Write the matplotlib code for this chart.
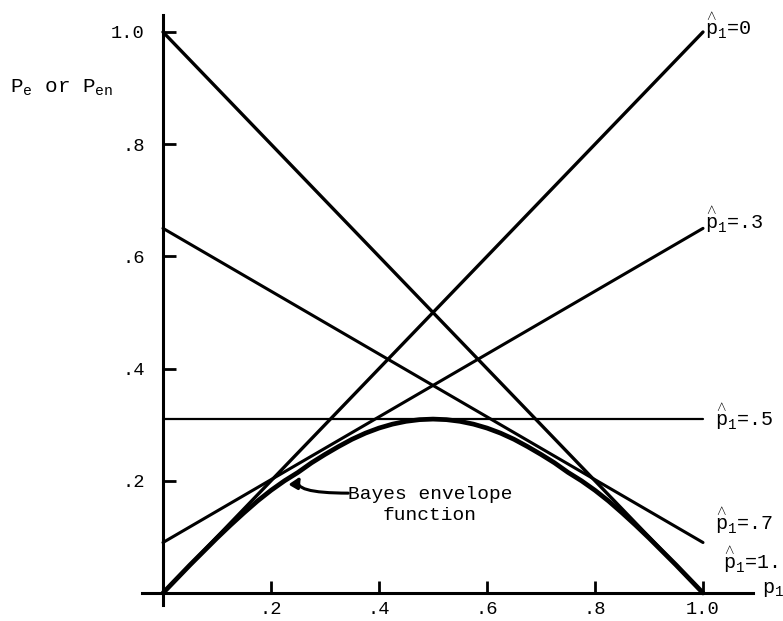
import matplotlib
matplotlib.use("Agg")
import matplotlib.pyplot as plt
import numpy as np

plt.rcParams['font.family'] = ['Liberation Mono', 'DejaVu Sans Mono']
plt.rcParams['mathtext.fontset'] = 'custom'
plt.rcParams['mathtext.rm'] = 'Liberation Mono'
plt.rcParams['mathtext.it'] = 'Liberation Mono'
plt.rcParams['mathtext.bf'] = 'Liberation Mono:bold'

# ---- data ----
line_x = [0.0, 1.0]
line_labels = ["0", ".3", ".5", ".7", "1."]
line_start = [0.0, 0.09, 0.31, 0.65, 1.0]
line_end = [1.0, 0.65, 0.31, 0.09, 0.0]
line_widths = [2.4, 2.2, 1.6, 2.2, 2.4]

env_p = [0.0, 0.025, 0.05, 0.075, 0.10, 0.125, 0.15, 0.175, 0.20, 0.225, 0.25,
         0.275, 0.30, 0.325, 0.35, 0.375, 0.40, 0.425, 0.45, 0.475, 0.50,
         0.525, 0.55, 0.575, 0.60, 0.625, 0.65, 0.675, 0.70, 0.725, 0.75,
         0.775, 0.80, 0.825, 0.85, 0.875, 0.90, 0.925, 0.95, 0.975, 1.0]
env_v = [0.0, 0.025, 0.05, 0.074, 0.098, 0.121, 0.143, 0.164, 0.183, 0.20, 0.215,
         0.232, 0.247, 0.261, 0.274, 0.285, 0.294, 0.301, 0.306, 0.309, 0.31,
         0.309, 0.306, 0.301, 0.294, 0.285, 0.274, 0.261, 0.247, 0.232, 0.215,
         0.20, 0.183, 0.164, 0.143, 0.121, 0.098, 0.074, 0.05, 0.025, 0.0]

xticks = [0.2, 0.4, 0.6, 0.8, 1.0]
xtick_labels = [".2", ".4", ".6", ".8", "1.0"]
yticks = [0.2, 0.4, 0.6, 0.8, 1.0]
ytick_labels = [".2", ".4", ".6", ".8", "1.0"]

# anchor (data coords) of the right-hand labels
label_pos = [(1.004, 1.003), (1.004, 0.656), (1.022, 0.306), (1.022, 0.12), (1.037, 0.05)]

FS = 13.5
W, H = 783, 621
fig = plt.figure(figsize=(W / 100, H / 100), dpi=100)
x0_px, x1_px = 163.0, 703.0
y0_px, y1_px = 593.0, 32.0
ax_left_px, ax_right_px = 141.7, 753.0
ax_bot_px, ax_top_px = 605.0, 15.0
ax = fig.add_axes([ax_left_px / W, (H - ax_bot_px) / H,
                   (ax_right_px - ax_left_px) / W, (ax_bot_px - ax_top_px) / H])
sx = (x1_px - x0_px)
sy = (y0_px - y1_px)
ax.set_xlim((ax_left_px - x0_px) / sx, (ax_right_px - x0_px) / sx)
ax.set_ylim((y0_px - ax_bot_px) / sy, (y0_px - ax_top_px) / sy)

for s in ['top', 'right']:
    ax.spines[s].set_visible(False)
ax.spines['left'].set_position(('data', 0))
ax.spines['bottom'].set_position(('data', 0))
ax.spines['left'].set_linewidth(2.2)
ax.spines['bottom'].set_linewidth(2.2)

ax.set_xticks(xticks)
ax.set_xticklabels(xtick_labels, fontsize=FS)
ax.set_yticks(yticks)
ax.set_yticklabels(ytick_labels, fontsize=FS)
ax.tick_params(axis='x', direction='in', length=9, width=2, pad=6)
ax.tick_params(axis='y', direction='in', length=9, width=2, pad=13)

for ys, ye, lw in zip(line_start, line_end, line_widths):
    ax.plot(line_x, [ys, ye], color='black', lw=lw, solid_capstyle='round', clip_on=False)

ax.plot(env_p, env_v, color='black', lw=3.4, solid_capstyle='round',
        solid_joinstyle='round', clip_on=False)

for lab, (lx, ly) in zip(line_labels, label_pos):
    ax.annotate(r"$\overset{\wedge}{\mathrm{p}}_{\mathrm{1}}$=" + lab, xy=(lx, ly),
                xytext=(0, 4), textcoords='offset points', fontsize=FS + 1,
                ha='left', va='center', annotation_clip=False)

ax.text(1.109, 0.006, r"$\mathrm{p}_{\mathrm{1}}$", fontsize=FS + 1, ha='left',
        va='center', clip_on=False)

ax.text(0.494, 0.157, "Bayes envelope\nfunction", fontsize=FS + 0.5, ha='center',
        va='center', multialignment='center', linespacing=1.3)
ax.annotate("", xy=(0.255, 0.208), xytext=(0.343, 0.178),
            arrowprops=dict(arrowstyle='-|>,head_length=0.6,head_width=0.3', lw=2.2,
                            color='black', connectionstyle='angle3,angleA=0,angleB=60',
                            shrinkA=0, shrinkB=0))

fig.text(10 / W, 1 - 88 / H, r"$\mathrm{P_e}$ or $\mathrm{P_{en}}$", fontsize=FS + 1.5,
         ha='left', va='center')

fig.savefig("out.png", dpi=100)
